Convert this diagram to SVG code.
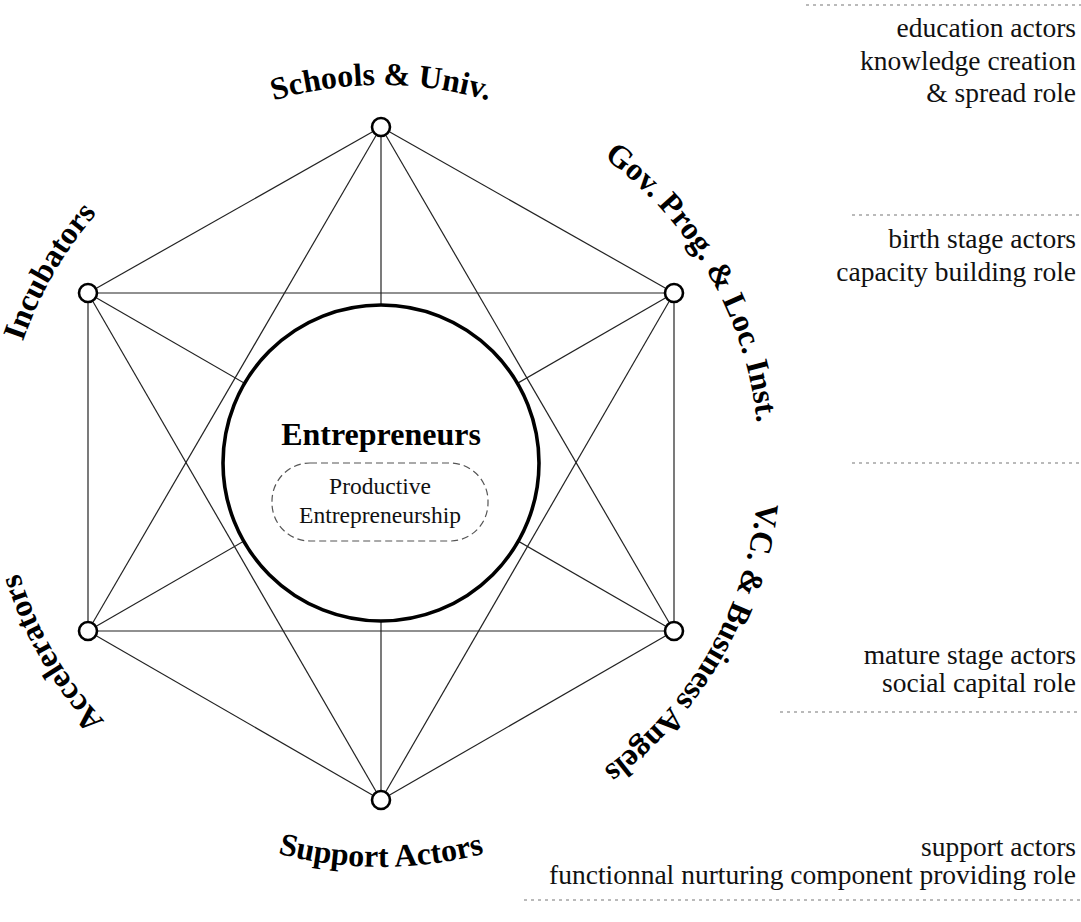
<svg xmlns="http://www.w3.org/2000/svg" xmlns:xlink="http://www.w3.org/1999/xlink" width="1081" height="922" viewBox="0 0 1081 922">
<style>
.edge{stroke:#222;stroke-width:1.2;fill:none}
.node{fill:#fff;stroke:#000;stroke-width:2.6}
.lab{font-family:"Liberation Serif","Times New Roman",serif;font-weight:bold;font-size:32px;fill:#000}
.side{font-family:"Liberation Serif","Times New Roman",serif;font-size:27.5px;fill:#111;text-anchor:end}
.sep{stroke:#777;stroke-width:1.2;stroke-dasharray:3 4;fill:none}
</style>
<defs>
<path id="pTop" d="M25.8,333.7 A378,378 0 0 1 736.2,333.7"/>
<path id="pUR" d="M315.4,90.7 A378,378 0 0 1 670.6,706"/>
<path id="pLR" d="M670.6,220 A378,378 0 0 1 315.4,835.3"/>
<path id="pLL" d="M446.6,835.3 A378,378 0 0 1 91.4,220"/>
<path id="pUL" d="M91.4,706 A378,378 0 0 1 446.6,90.7"/>
<path id="pBot" d="M1.4,601.2 A404,404 0 0 0 760.6,601.2"/>
</defs>
<rect width="1081" height="922" fill="#fff"/>
<g id="connectors">
<line class="edge" x1="381" y1="127" x2="88" y2="293"/>
<line class="edge" x1="381" y1="127" x2="674" y2="293"/>
<line class="edge" x1="381" y1="127" x2="88" y2="631"/>
<line class="edge" x1="381" y1="127" x2="674" y2="631"/>
<line class="edge" x1="381" y1="127" x2="381" y2="800"/>
<line class="edge" x1="88" y1="293" x2="674" y2="293"/>
<line class="edge" x1="88" y1="293" x2="88" y2="631"/>
<line class="edge" x1="88" y1="293" x2="674" y2="631"/>
<line class="edge" x1="88" y1="293" x2="381" y2="800"/>
<line class="edge" x1="674" y1="293" x2="674" y2="631"/>
<line class="edge" x1="674" y1="293" x2="88" y2="631"/>
<line class="edge" x1="674" y1="293" x2="381" y2="800"/>
<line class="edge" x1="88" y1="631" x2="674" y2="631"/>
<line class="edge" x1="88" y1="631" x2="381" y2="800"/>
<line class="edge" x1="674" y1="631" x2="381" y2="800"/>
</g>
<g id="entrepreneurs">
<circle cx="381" cy="463" r="158" fill="#fff" stroke="#000" stroke-width="3.6"/>
<text x="381" y="445" text-anchor="middle" font-family="Liberation Serif, Times New Roman, serif" font-weight="bold" font-size="32">Entrepreneurs</text>
<rect x="272" y="463" width="216" height="78" rx="38" ry="38" fill="none" stroke="#555" stroke-width="1.2" stroke-dasharray="7 4"/>
<text x="380" y="494" text-anchor="middle" font-family="Liberation Serif, Times New Roman, serif" font-size="23.5" fill="#111">Productive</text>
<text x="380" y="522.5" text-anchor="middle" font-family="Liberation Serif, Times New Roman, serif" font-size="23.5" fill="#111">Entrepreneurship</text>
</g>
<g id="schools">
<circle class="node" cx="381" cy="127" r="9"/>
<text class="lab"><textPath xlink:href="#pTop" href="#pTop" startOffset="50%" text-anchor="middle">Schools &amp; Univ.</textPath></text>
</g>
<g id="gov">
<circle class="node" cx="674" cy="293" r="9"/>
<text class="lab"><textPath xlink:href="#pUR" href="#pUR" startOffset="50%" text-anchor="middle">Gov. Prog. &amp; Loc. Inst.</textPath></text>
</g>
<g id="vc">
<circle class="node" cx="674" cy="631" r="9"/>
<text class="lab"><textPath xlink:href="#pLR" href="#pLR" startOffset="50%" text-anchor="middle">V.C. &amp; Business Angels</textPath></text>
</g>
<g id="support">
<circle class="node" cx="381" cy="800" r="9"/>
<text class="lab"><textPath xlink:href="#pBot" href="#pBot" startOffset="50%" text-anchor="middle">Support Actors</textPath></text>
</g>
<g id="accelerators">
<circle class="node" cx="88" cy="631" r="9"/>
<text class="lab"><textPath xlink:href="#pLL" href="#pLL" startOffset="50%" text-anchor="middle">Accelerators</textPath></text>
</g>
<g id="incubators">
<circle class="node" cx="88" cy="293" r="9"/>
<text class="lab"><textPath xlink:href="#pUL" href="#pUL" startOffset="50%" text-anchor="middle">Incubators</textPath></text>
</g>
<g id="roles">
<line class="sep" x1="806" y1="5" x2="1081" y2="5"/>
<text class="side" x="1076" y="37">education actors</text>
<text class="side" x="1076" y="69.5">knowledge creation</text>
<text class="side" x="1076" y="102">&amp; spread role</text>
<line class="sep" x1="852" y1="215" x2="1081" y2="215"/>
<text class="side" x="1076" y="248">birth stage actors</text>
<text class="side" x="1076" y="280.5">capacity building role</text>
<line class="sep" x1="852" y1="463" x2="1081" y2="463"/>
<text class="side" x="1076" y="664">mature stage actors</text>
<text class="side" x="1076" y="692">social capital role</text>
<line class="sep" x1="780" y1="712" x2="1081" y2="712"/>
<text class="side" x="1076" y="856">support actors</text>
<text class="side" x="1076" y="884">functionnal nurturing component providing role</text>
<line class="sep" x1="524" y1="900" x2="1081" y2="900"/>
</g>
</svg>
